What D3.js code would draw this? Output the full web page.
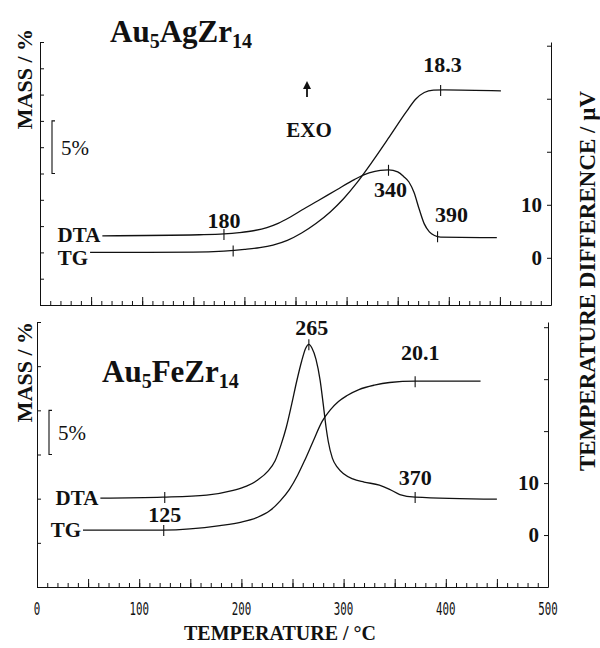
<!DOCTYPE html>
<html>
<head>
<meta charset="utf-8">
<script src="https://cdn.jsdelivr.net/npm/d3@7"></script>
<style>
	html, body { margin: 0; padding: 0; background: #fff; }
	svg { display: block; }
	.serif { font-family: "Liberation Serif", "Times New Roman", serif; fill: #111; }
	.curve { fill: none; stroke: #111; stroke-width: 1.3; }
	.axis path, .axis line { stroke: #111; stroke-width: 1; }
</style>
</head>
<body>
<svg id="chart" width="600" height="648"></svg>
<script>

// temperature axis
var tempDomain = [0, 500];
var tempTickLabels = [0, 100, 200, 300, 400, 500];

// Au5AgZr14 : [temperature °C, DTA µV] and [temperature °C, mass %]
var agDTA = [[61, 4.15], [156, 4.35], [180, 4.5], [195, 4.75], [210, 5.15], [222, 5.7], [233, 6.5],
	[245, 7.7], [258, 9.2], [272, 10.75], [290, 12.8], [308, 14.8], [322, 16.0], [333, 16.5],
	[341, 16.6], [350, 16.2], [356, 15.3], [361, 14.3], [366, 12.3], [371, 9.2], [376, 6.4],
	[381, 4.9], [386, 4.2], [392, 3.9], [447, 3.8]];
var agTG = [[49, 0], [150, 0.02], [180, 0.12], [200, 0.28], [215, 0.45], [228, 0.7], [242, 1.15],
	[256, 1.85], [270, 2.75], [284, 3.85], [297, 5.1], [310, 6.6], [325, 8.6], [342, 11.0],
	[358, 13.3], [368, 14.6], [376, 15.2], [385, 15.42], [395, 15.45], [451, 15.35]];

// Au5FeZr14
var feDTA = [[62, 7.1], [123, 7.3], [166, 7.7], [192, 8.6], [205, 9.4], [216, 10.6], [226, 12.3],
	[233, 14.3], [239, 17.5], [244, 20.8], [249, 25.0], [254, 29.5], [259, 33.5], [263, 36.0],
	[266, 36.7], [269, 36.0], [273, 33.8], [277, 29.8], [280, 25.3], [283, 20.5], [285, 18.0],
	[289, 14.8], [294, 13.0], [300, 11.8], [309, 10.8], [320, 10.2], [335, 9.6], [345, 8.8],
	[355, 7.8], [370, 7.3], [450, 6.9]];
var feTG = [[45, 0], [123, 0], [179, 0.5], [200, 0.9], [215, 1.4], [228, 2.2], [238, 3.3],
	[247, 4.6], [255, 6.2], [262, 7.9], [270, 10.0], [279, 12.3], [287, 13.6], [295, 14.55],
	[303, 15.2], [315, 15.9], [330, 16.4], [345, 16.7], [370, 16.85], [434, 16.85]];

// axis domains (mass % left, DTA µV right)
var agMassDomain = [-5, 20];
var agDtaDomain = [-8.9, 40.7];
var feMassDomain = [-6.45, 23.55];
var feDtaDomain = [-10, 41];
var dtaTicks = [0, 10, 20, 30, 40];
var dtaTickLabels = [0, 10];

// marked points on the curves
var agMarks = [
	{ series: 'dta', t: 180, label: '180' },
	{ series: 'tg', t: 189, label: '' },
	{ series: 'dta', t: 341, label: '340' },
	{ series: 'dta', t: 389, label: '390' },
	{ series: 'tg', t: 392, label: '18.3' }
];
var feMarks = [
	{ series: 'dta', t: 125, label: '125' },
	{ series: 'tg', t: 124, label: '' },
	{ series: 'dta', t: 266, label: '265' },
	{ series: 'dta', t: 370, label: '370' },
	{ series: 'tg', t: 370, label: '20.1' }
];

var svg = d3.select('#chart');

// label offsets relative to the mark (px)
var labelOffset = {
	'180': [0, -6], '340': [2, 27], '390': [14, -14], '18.3': [2, -18],
	'125': [0, 25], '265': [3, -9], '370': [0, -12], '20.1': [5, -21]
};

var panels = [
	{
		name: ['Au', '5', 'AgZr', '14'], nameX: 110, nameY: 42,
		dta: agDTA, tg: agTG, marks: agMarks,
		left: 40, right: 551, top: 42, bottom: 305,
		massDomain: agMassDomain, massStep: 2.5, dtaDomain: agDtaDomain,
		bracket: [7.5, 12.5], massLabelY: 79, dtaLabelDy: 6, tgLabelDy: 13,
		tickLabels: false
	},
	{
		name: ['Au', '5', 'FeZr', '14'], nameX: 102, nameY: 382,
		dta: feDTA, tg: feTG, marks: feMarks,
		left: 37, right: 548, top: 322, bottom: 587,
		massDomain: feMassDomain, massStep: 5, dtaDomain: feDtaDomain,
		bracket: [feMassDomain[0] + 15, feMassDomain[0] + 20], massLabelY: 372, dtaLabelDy: 7, tgLabelDy: 7,
		tickLabels: true
	}
];

panels.forEach(drawPanel);

function valueAt(data, t) {
	var i = d3.bisector(function (d) { return d[0]; }).left(data, t);
	if (i <= 0) return data[0][1];
	if (i >= data.length) return data[data.length - 1][1];
	var a = data[i - 1], b = data[i];
	return a[1] + (b[1] - a[1]) * (t - a[0]) / (b[0] - a[0]);
}

function drawPanel(p) {
	var x = d3.scaleLinear().domain(tempDomain).range([p.left, p.right]);
	var yMass = d3.scaleLinear().domain(p.massDomain).range([p.bottom, p.top]);
	var yDta = d3.scaleLinear().domain(p.dtaDomain).range([p.bottom, p.top]);

	var g = svg.append('g');

	// bottom axis: minor and major ticks pointing inward
	g.append('g')
		.attr('class', 'axis')
		.attr('transform', 'translate(0,' + p.bottom + ')')
		.call(d3.axisBottom(x).tickValues(d3.range(0, 501, 10)).tickSize(-4).tickSizeOuter(0).tickFormat(''));
	g.append('g')
		.attr('class', 'axis')
		.attr('transform', 'translate(0,' + p.bottom + ')')
		.call(d3.axisBottom(x).tickValues(d3.range(0, 501, 50)).tickSize(-8).tickSizeOuter(0).tickFormat(''))
		.select('.domain').remove();

	// left axis (mass)
	g.append('g')
		.attr('class', 'axis')
		.attr('transform', 'translate(' + p.left + ',0)')
		.call(d3.axisRight(yMass)
			.tickValues(d3.range(p.massDomain[0], p.massDomain[1] + 0.01, p.massStep))
			.tickSize(4).tickSizeOuter(0).tickFormat(''));

	// right axis (DTA)
	var ra = g.append('g')
		.attr('class', 'axis')
		.attr('transform', 'translate(' + p.right + ',0)')
		.call(d3.axisLeft(yDta)
			.tickValues(dtaTicks)
			.tickSize(4).tickSizeOuter(0).tickPadding(5)
			.tickFormat(function (d) { return dtaTickLabels.indexOf(d) >= 0 ? d : ''; }));
	ra.selectAll('text')
		.attr('class', 'serif')
		.attr('font-size', 21)
		.attr('font-weight', 'bold')
		.attr('fill', '#111');

	if (p.tickLabels) {
		var tl = g.selectAll('g.tlabel')
			.data(tempTickLabels)
			.enter().append('g')
			.attr('class', 'tlabel')
			.attr('transform', function (d) { return 'translate(' + x(d) + ',615) scale(0.6,1)'; });
		tl.append('text')
			.attr('text-anchor', 'middle')
			.attr('font-family', '"DejaVu Sans Mono", monospace')
			.attr('font-size', 18)
			.attr('fill', '#111')
			.text(function (d) { return d; });
	}

	// curves
	var dtaLine = d3.line()
		.x(function (d) { return x(d[0]); })
		.y(function (d) { return yDta(d[1]); })
		.curve(d3.curveMonotoneX);
	var tgLine = d3.line()
		.x(function (d) { return x(d[0]); })
		.y(function (d) { return yMass(d[1]); })
		.curve(d3.curveMonotoneX);

	g.append('path').attr('class', 'curve').attr('d', dtaLine(p.dta));
	g.append('path').attr('class', 'curve').attr('d', tgLine(p.tg));

	// series labels
	var first = p.dta[0];
	g.append('text')
		.attr('class', 'serif')
		.attr('x', x(first[0]) - 2)
		.attr('y', yDta(first[1]) + p.dtaLabelDy)
		.attr('text-anchor', 'end')
		.attr('font-size', 21)
		.attr('font-weight', 'bold')
		.text('DTA');
	first = p.tg[0];
	g.append('text')
		.attr('class', 'serif')
		.attr('x', x(first[0]) - 2)
		.attr('y', yMass(first[1]) + p.tgLabelDy)
		.attr('text-anchor', 'end')
		.attr('font-size', 21)
		.attr('font-weight', 'bold')
		.text('TG');

	// marks
	p.marks.forEach(function (m) {
		var data = m.series === 'dta' ? p.dta : p.tg;
		var scale = m.series === 'dta' ? yDta : yMass;
		var mx = x(m.t), my = scale(valueAt(data, m.t));
		g.append('line')
			.attr('x1', mx).attr('x2', mx)
			.attr('y1', my - 5).attr('y2', my + 6)
			.attr('stroke', '#111').attr('stroke-width', 1.1);
		if (m.label) {
			var off = labelOffset[m.label];
			g.append('text')
				.attr('class', 'serif')
				.attr('x', mx + off[0])
				.attr('y', my + off[1])
				.attr('text-anchor', 'middle')
				.attr('font-size', 22)
				.attr('font-weight', 'bold')
				.text(m.label);
		}
	});

	// 5% scale bracket
	var by0 = yMass(p.bracket[1]), by1 = yMass(p.bracket[0]), bx = p.left + 12;
	g.append('path')
		.attr('d', 'M' + (bx + 3) + ',' + by0 + 'H' + bx + 'V' + by1 + 'H' + (bx + 3))
		.attr('fill', 'none')
		.attr('stroke', '#111')
		.attr('stroke-width', 1.1);
	g.append('text')
		.attr('class', 'serif')
		.attr('x', bx + 9)
		.attr('y', (by0 + by1) / 2)
		.attr('dy', '0.35em')
		.attr('font-size', 21)
		.text('5%');

	// compound name
	var name = g.append('text')
		.attr('class', 'serif')
		.attr('x', p.nameX)
		.attr('y', p.nameY)
		.attr('font-size', 31)
		.attr('font-weight', 'bold');
	p.name.forEach(function (part, i) {
		var sub = i % 2 === 1;
		name.append('tspan')
			.attr('font-size', sub ? 20 : 31)
			.attr('dy', sub ? 6 : (i === 0 ? 0 : -6))
			.text(part);
	});

	// left axis title
	g.append('text')
		.attr('class', 'serif')
		.attr('transform', 'translate(32,' + p.massLabelY + ') rotate(-90)')
		.attr('text-anchor', 'middle')
		.attr('font-size', 22)
		.attr('font-weight', 'bold')
		.text('MASS / %');
}

// EXO arrow
svg.append('path')
	.attr('d', 'M307,97V86')
	.attr('stroke', '#111')
	.attr('stroke-width', 1.8);
svg.append('path')
	.attr('d', 'M303,89L307,81L311,89Z')
	.attr('fill', '#111');
svg.append('text')
	.attr('class', 'serif')
	.attr('x', 309)
	.attr('y', 137)
	.attr('text-anchor', 'middle')
	.attr('font-size', 21)
	.attr('font-weight', 'bold')
	.text('EXO');

// shared axis titles
svg.append('text')
	.attr('class', 'serif')
	.attr('x', 280)
	.attr('y', 640)
	.attr('text-anchor', 'middle')
	.attr('font-size', 20)
	.attr('font-weight', 'bold')
	.text('TEMPERATURE  / °C');

svg.append('text')
	.attr('class', 'serif')
	.attr('transform', 'translate(595,281) rotate(-90)')
	.attr('text-anchor', 'middle')
	.attr('font-size', 23)
	.attr('font-weight', 'bold')
	.text('TEMPERATURE DIFFERENCE  / µV');

</script>
</body>
</html>
